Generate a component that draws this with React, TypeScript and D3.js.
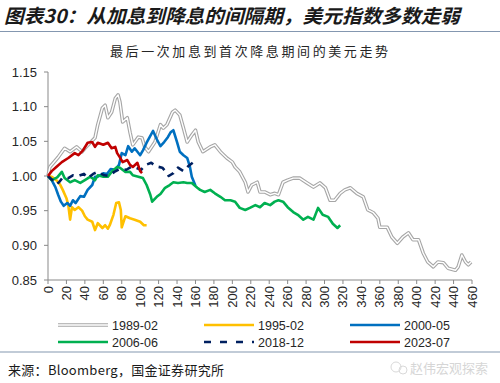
import React from "react";
import * as d3 from "d3";

const yTicks = [0.85, 0.9, 0.95, 1.0, 1.05, 1.1, 1.15];
const xTicks = d3.range(0, 461, 20);

const s1989: [number, number][] = [
  [0, 1.0], [2, 1.013], [11, 1.027], [18, 1.04], [24, 1.035], [31, 1.042], [37, 1.035], [40, 1.04],
  [51, 1.055], [54, 1.074], [59, 1.098], [62, 1.102], [65, 1.084], [69, 1.092], [73, 1.112], [76, 1.117],
  [78, 1.107], [81, 1.078], [86, 1.084], [89, 1.063], [92, 1.045], [98, 1.056], [102, 1.055], [105, 1.042],
  [109, 1.035], [116, 1.049], [122, 1.074], [125, 1.069], [129, 1.074], [135, 1.092], [138, 1.095],
  [143, 1.088], [147, 1.069], [151, 1.049], [156, 1.059], [160, 1.066], [163, 1.049], [168, 1.035],
  [176, 1.042], [181, 1.045], [187, 1.035], [194, 1.026], [200, 1.02], [203, 1.013], [208, 1.006],
  [214, 0.991], [217, 0.977], [221, 0.987], [227, 0.991], [230, 0.977], [235, 0.977], [241, 0.973],
  [246, 0.975], [250, 0.973], [255, 0.991], [260, 0.994], [266, 0.997], [273, 0.997], [281, 0.99],
  [288, 0.984], [295, 0.99], [301, 0.983], [306, 0.965], [311, 0.965], [317, 0.975], [322, 0.98],
  [328, 0.983], [335, 0.975], [342, 0.97], [347, 0.951], [353, 0.947], [358, 0.939], [360, 0.926],
  [368, 0.926], [373, 0.912], [379, 0.903], [385, 0.912], [391, 0.918], [396, 0.908], [402, 0.908],
  [407, 0.889], [412, 0.876], [418, 0.869], [423, 0.876], [429, 0.875], [434, 0.867], [442, 0.864],
  [445, 0.869], [449, 0.886], [453, 0.876], [456, 0.872], [459, 0.876],
];

const s1995: [number, number][] = [
  [0, 1.0], [4, 0.999], [9, 0.994], [13, 0.988], [16, 0.98], [20, 0.968], [22, 0.958], [24, 0.937],
  [26, 0.955], [29, 0.951], [33, 0.955], [37, 0.95], [40, 0.942], [43, 0.937], [48, 0.934], [51, 0.922],
  [54, 0.932], [59, 0.925], [62, 0.929], [65, 0.924], [67, 0.929], [71, 0.944], [74, 0.961], [77, 0.962],
  [79, 0.951], [80, 0.926], [84, 0.942], [89, 0.939], [94, 0.937], [100, 0.934], [104, 0.929], [107, 0.929],
];

const s2000: [number, number][] = [
  [0, 1.0], [4, 0.994], [8, 0.984], [11, 0.973], [14, 0.963], [17, 0.957], [21, 0.961], [24, 0.957],
  [27, 0.965], [30, 0.961], [35, 0.971], [39, 0.97], [43, 0.98], [48, 0.987], [51, 0.999], [54, 0.999],
  [60, 1.004], [64, 1.003], [68, 1.01], [73, 1.009], [77, 1.016], [80, 1.033], [84, 1.03], [87, 1.043],
  [91, 1.035], [94, 1.04], [100, 1.03], [103, 1.037], [107, 1.048], [111, 1.058], [114, 1.065],
  [118, 1.053], [122, 1.043], [126, 1.049], [130, 1.056], [133, 1.063], [136, 1.066], [140, 1.049],
  [143, 1.035], [147, 1.03], [151, 1.026], [154, 1.013], [156, 0.999], [160, 0.986],
];

const s2006: [number, number][] = [
  [0, 1.0], [4, 0.994], [10, 0.998], [15, 1.006], [18, 0.997], [24, 0.991], [29, 0.994], [35, 0.99],
  [40, 0.994], [46, 0.999], [51, 0.994], [54, 1.001], [60, 0.999], [65, 0.999], [69, 1.006], [75, 1.013],
  [78, 1.012], [84, 1.006], [89, 1.006], [92, 1.001], [98, 0.999], [103, 0.997], [107, 0.987], [111, 0.973],
  [113, 0.963], [118, 0.97], [122, 0.974], [127, 0.983], [132, 0.987], [136, 0.991], [141, 0.99],
  [147, 0.991], [151, 0.99], [156, 0.99], [162, 0.983], [165, 0.98], [170, 0.977], [176, 0.98],
  [181, 0.975], [187, 0.97], [192, 0.965], [198, 0.965], [203, 0.963], [208, 0.954], [214, 0.951],
  [219, 0.954], [225, 0.958], [230, 0.955], [235, 0.961], [241, 0.958], [246, 0.963], [250, 0.965],
  [255, 0.963], [260, 0.955], [266, 0.948], [271, 0.944], [277, 0.937], [282, 0.941], [288, 0.937],
  [293, 0.954], [298, 0.944], [304, 0.941], [309, 0.931], [314, 0.925], [317, 0.929],
];

const s2018: [number, number][] = [
  [0, 1.0], [4, 0.995], [9, 0.988], [12, 0.991], [16, 0.998], [22, 0.997], [27, 1.001], [33, 1.0],
  [39, 1.003], [43, 0.997], [49, 1.003], [54, 1.006], [61, 1.001], [66, 1.0], [72, 1.006], [78, 1.01],
  [85, 1.009], [90, 1.013], [95, 1.012], [101, 1.009], [106, 1.016], [112, 1.019], [117, 1.014],
  [124, 1.012], [128, 1.006], [131, 1.0], [136, 1.004], [141, 1.012], [147, 1.007], [152, 1.014], [157, 1.019],
];

const s2023: [number, number][] = [
  [0, 1.0], [4, 1.007], [9, 1.013], [15, 1.02], [22, 1.026], [29, 1.033], [33, 1.03], [38, 1.037],
  [43, 1.048], [48, 1.049], [51, 1.042], [54, 1.048], [60, 1.045], [65, 1.048], [69, 1.04], [73, 1.042],
  [75, 1.033], [78, 1.027], [81, 1.02], [86, 1.023], [89, 1.016], [92, 1.013], [97, 1.019], [100, 1.007],
  [102, 1.004],
];

const seriesNames = ["1989-02", "1995-02", "2000-05", "2006-06", "2018-12", "2023-07"];
const seriesData = [s1989, s1995, s2000, s2006, s2018, s2023];
const seriesColors = ["#a6a6a6", "#ffc000", "#0070c0", "#00b050", "#002060", "#c00000"];

const W = 500;
const H = 383;
const X0 = 48;
const X1 = 472;
const Y0 = 280;
const Y1 = 72;

export default function App() {
  const x = d3.scaleLinear().domain([0, 460]).range([X0, X1]);
  const y = d3.scaleLinear().domain([0.85, 1.15]).range([Y0, Y1]);
  const line = d3
    .line<[number, number]>()
    .x((d) => x(d[0]))
    .y((d) => y(d[1]));

  const cjk = "'Noto Sans CJK SC', sans-serif";
  const latin = "'Liberation Sans', Arial, sans-serif";

  const legendCols = [58, 204, 350];
  const legendRows = [325, 342];

  return (
    <svg
      width={W}
      height={H}
      style={{ position: "absolute", left: 0, top: 0, background: "#fff" }}
    >
      <text
        x={4}
        y={23}
        fontFamily={cjk}
        fontSize={19}
        fontWeight="bold"
        fontStyle="italic"
        fill="#1a1a1a"
        textLength={456}
        lengthAdjust="spacingAndGlyphs"
      >
        图表30：从加息到降息的间隔期，美元指数多数走弱
      </text>
      <line x1={0} x2={W} y1={31.5} y2={31.5} stroke="#8497b0" strokeWidth={1.2} />
      <text
        x={110}
        y={56}
        fontFamily={cjk}
        fontSize={13}
        fill="#262626"
        textLength={278}
        lengthAdjust="spacing"
      >
        最后一次加息到首次降息期间的美元走势
      </text>

      {/* y axis */}
      <line x1={X0} x2={X0} y1={Y1} y2={Y0} stroke="#898989" strokeWidth={1} />
      {yTicks.map((t) => (
        <g key={t}>
          <line x1={X0 - 4} x2={X0} y1={y(t)} y2={y(t)} stroke="#898989" />
          <text
            x={37}
            y={y(t) + 4.5}
            textAnchor="end"
            fontFamily={latin}
            fontSize={13}
            fill="#262626"
          >
            {t.toFixed(2)}
          </text>
        </g>
      ))}

      {/* x axis */}
      <line x1={X0} x2={X1} y1={Y0} y2={Y0} stroke="#898989" strokeWidth={1} />
      {xTicks.map((t) => (
        <g key={t}>
          <line x1={x(t)} x2={x(t)} y1={Y0} y2={Y0 + 4} stroke="#898989" />
          <text
            transform={`translate(${x(t) + 4.5},${Y0 + 6}) rotate(-90)`}
            textAnchor="end"
            fontFamily={latin}
            fontSize={13}
            fill="#262626"
          >
            {t}
          </text>
        </g>
      ))}

      {/* series */}
      <path d={line(s1989) || ""} fill="none" stroke="#a6a6a6" strokeWidth={3.6} strokeLinejoin="round" />
      <path d={line(s1989) || ""} fill="none" stroke="#ffffff" strokeWidth={1.4} strokeLinejoin="round" />
      <path d={line(s1995) || ""} fill="none" stroke={seriesColors[1]} strokeWidth={2.6} strokeLinejoin="round" />
      <path d={line(s2000) || ""} fill="none" stroke={seriesColors[2]} strokeWidth={2.6} strokeLinejoin="round" />
      <path d={line(s2006) || ""} fill="none" stroke={seriesColors[3]} strokeWidth={2.6} strokeLinejoin="round" />
      <path
        d={line(s2018) || ""}
        fill="none"
        stroke={seriesColors[4]}
        strokeWidth={2.6}
        strokeDasharray="7 6"
        strokeLinejoin="round"
      />
      <path d={line(s2023) || ""} fill="none" stroke={seriesColors[5]} strokeWidth={2.6} strokeLinejoin="round" />

      {/* legend */}
      {seriesNames.map((name, i) => {
        const cx = legendCols[i % 3];
        const cy = legendRows[Math.floor(i / 3)];
        return (
          <g key={name}>
            {i === 0 ? (
              <>
                <line x1={cx} x2={cx + 50} y1={cy} y2={cy} stroke="#a6a6a6" strokeWidth={3.6} />
                <line x1={cx} x2={cx + 50} y1={cy} y2={cy} stroke="#fff" strokeWidth={1.4} />
              </>
            ) : (
              <line
                x1={cx}
                x2={cx + 50}
                y1={cy}
                y2={cy}
                stroke={seriesColors[i]}
                strokeWidth={2.6}
                strokeDasharray={i === 4 ? "7 9" : undefined}
              />
            )}
            <text x={cx + 54} y={cy + 4.5} fontFamily={latin} fontSize={12.5} fill="#262626">
              {name}
            </text>
          </g>
        );
      })}

      <line x1={0} x2={W} y1={352} y2={352} stroke="#8497b0" strokeWidth={1.2} />
      <text
        x={8}
        y={375}
        fontFamily={cjk}
        fontSize={13}
        fill="#1a1a1a"
        textLength={216}
        lengthAdjust="spacing"
      >
        来源：Bloomberg，国金证券研究所
      </text>

      {/* watermark */}
      <g opacity={0.55}>
        <circle cx={396} cy={367} r={5} fill="none" stroke="#bbb" strokeWidth={1} />
        <circle cx={403} cy={370} r={4} fill="none" stroke="#bbb" strokeWidth={1} />
        <text x={410} y={373} fontFamily={cjk} fontSize={13} fill="#b5b5b5">
          赵伟宏观探索
        </text>
      </g>
    </svg>
  );
}
